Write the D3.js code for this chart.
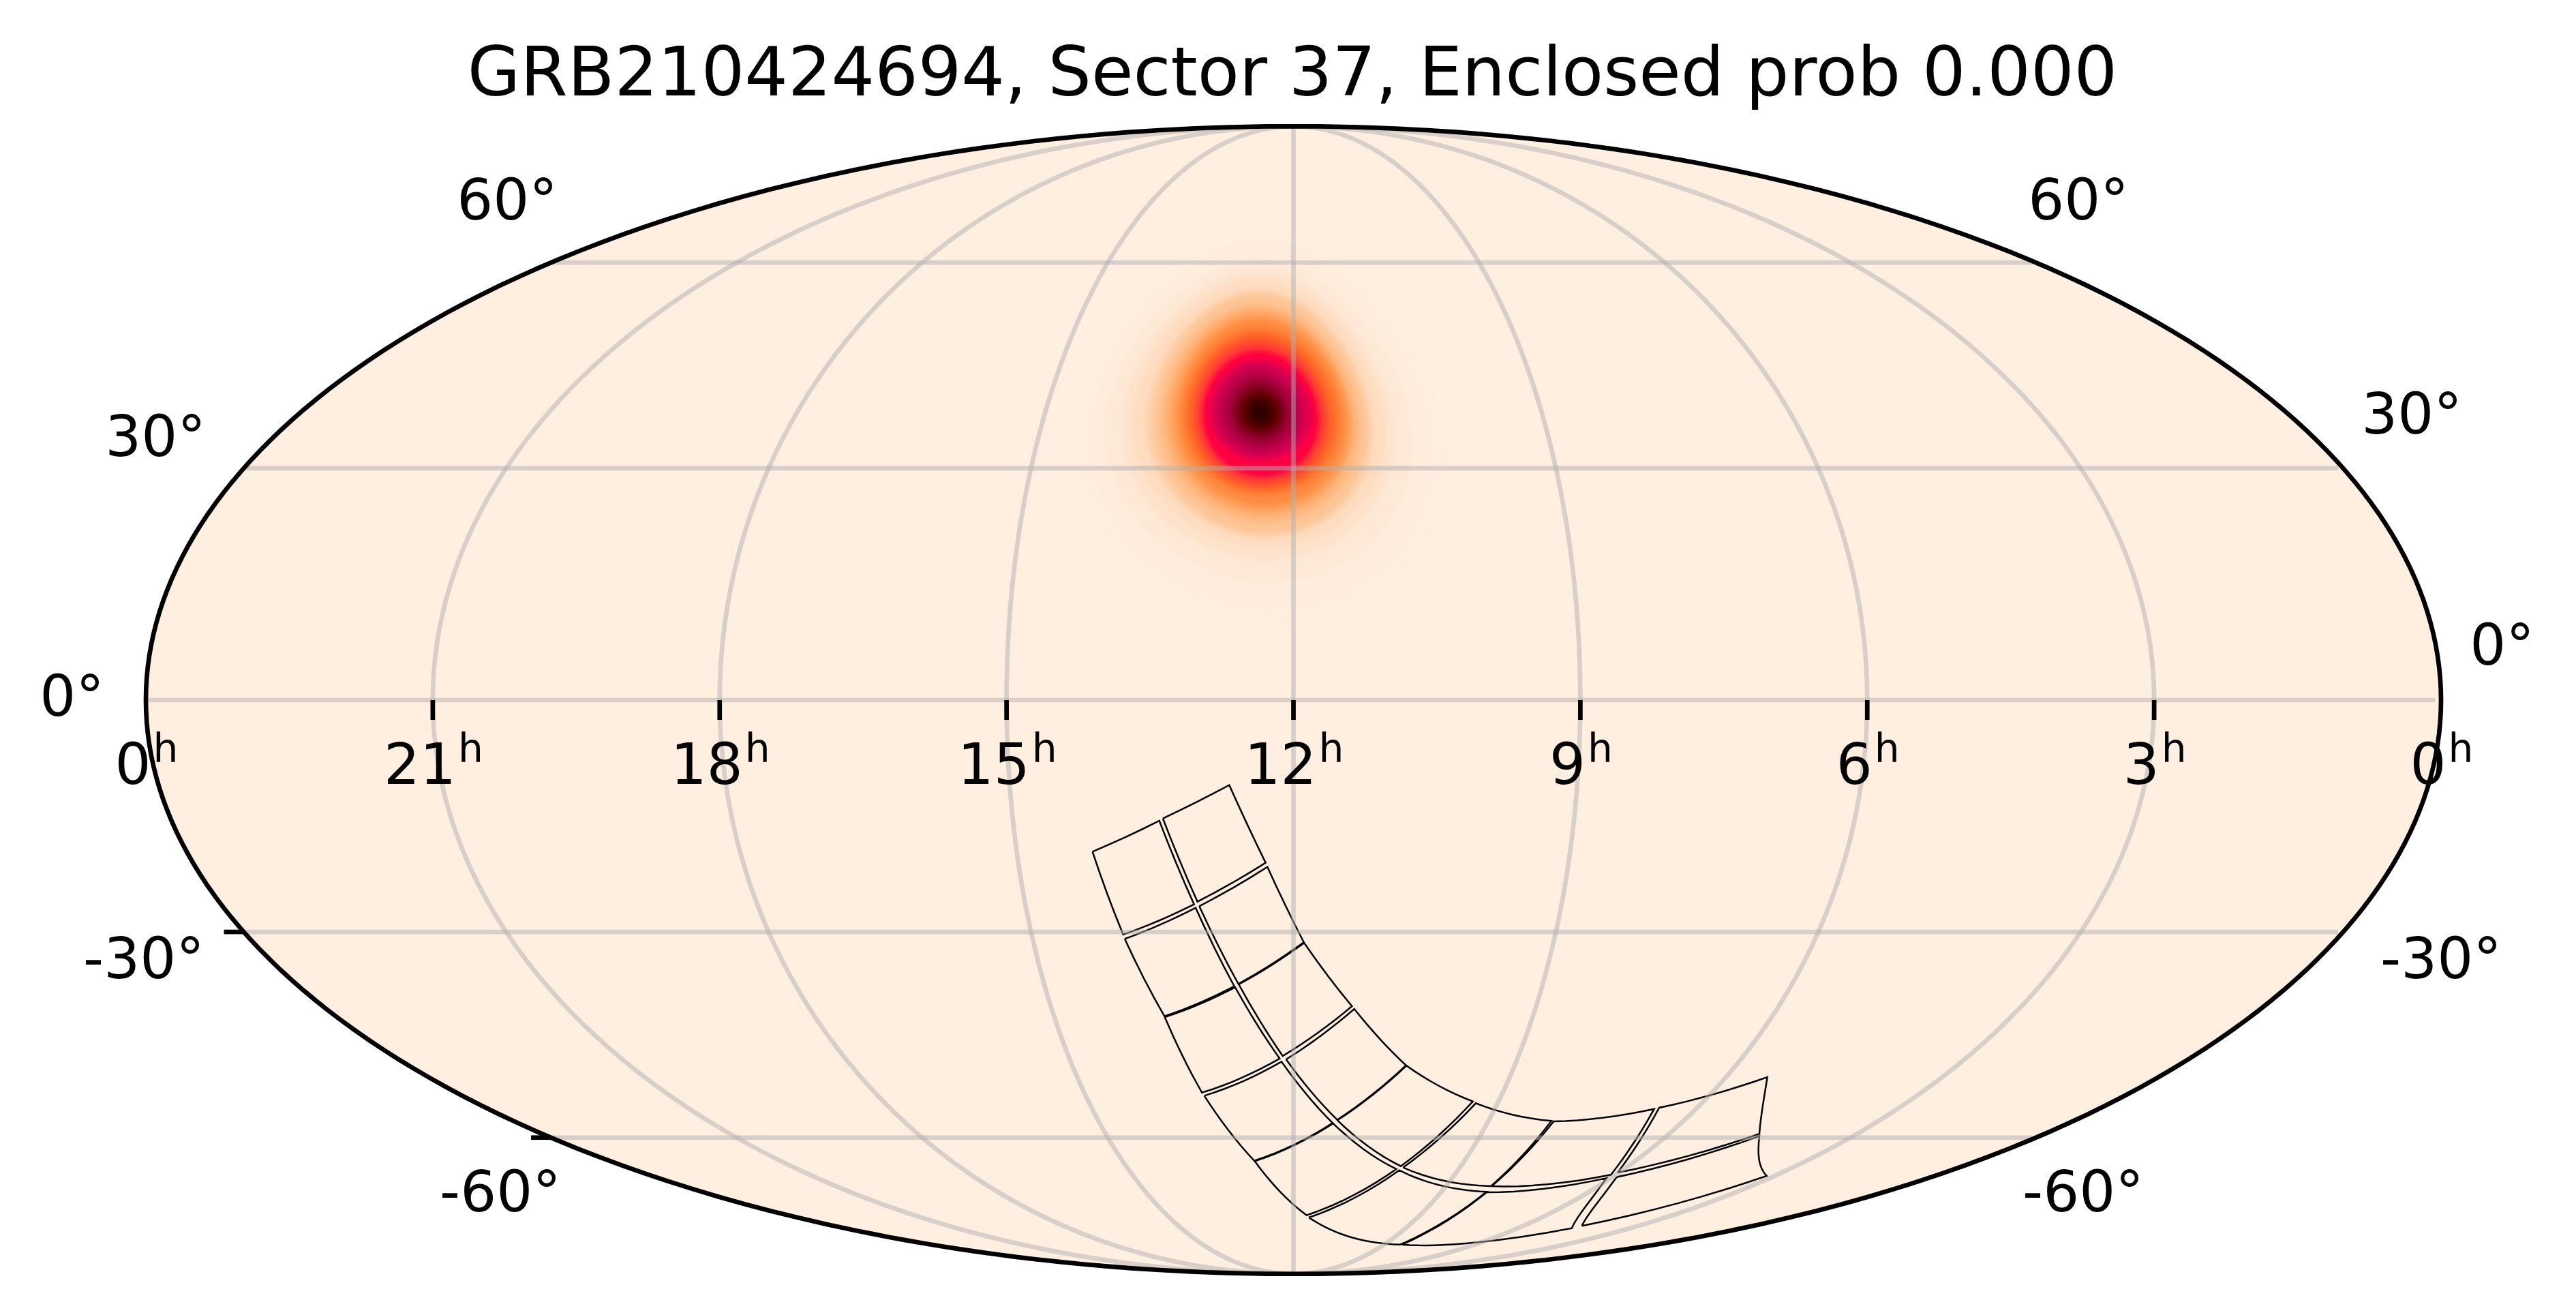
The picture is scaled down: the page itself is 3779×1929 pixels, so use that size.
<!DOCTYPE html>
<html><head><meta charset="utf-8">
<script src="https://cdn.jsdelivr.net/npm/d3@7"></script>
<style>html,body{margin:0;background:#fff}svg{display:block}text{font-family:"DejaVu Sans";fill:#000}</style>
</head><body><svg id="c" width="3779" height="1929"></svg>
<script>
const title="GRB210424694, Sector 37, Enclosed prob 0.000";
const raHourTicks=[21,18,15,12,9,6,3];
const decTicks=[-60,-30,0,30,60];
const ccdCorners=[
[[212.68,-19.41],[201.52,-15.41],[196.68,-26.33],[209.26,-30.36]],
[[200.93,-15.12],[190.18,-10.83],[184.55,-20.86],[196.08,-25.97]],
[[209.10,-30.94],[196.46,-26.78],[190.71,-37.41],[204.24,-41.61]],
[[195.83,-26.57],[184.27,-21.40],[178.21,-31.40],[189.94,-37.08]],
[[204.22,-41.74],[190.56,-37.56],[182.77,-47.73],[199.67,-52.86]],
[[189.87,-37.15],[178.14,-31.49],[169.15,-40.20],[182.15,-47.35]],
[[199.31,-53.34],[182.41,-48.19],[170.91,-57.63],[190.31,-63.90]],
[[181.48,-47.86],[168.68,-40.58],[157.10,-48.74],[169.93,-57.12]],
[[190.20,-63.97],[170.78,-57.70],[152.01,-65.35],[175.34,-74.02]],
[[169.88,-57.19],[157.00,-48.80],[140.63,-54.22],[151.13,-64.84]],
[[174.44,-74.48],[151.05,-65.56],[121.26,-69.46],[127.00,-80.48]],
[[150.36,-65.08],[139.81,-54.50],[120.47,-57.30],[121.70,-68.41]],
[[126.08,-80.48],[121.04,-69.55],[91.22,-66.96],[68.33,-76.74]],
[[121.50,-68.41],[119.87,-57.37],[99.37,-55.40],[91.37,-66.35]],
[[67.01,-76.24],[88.79,-66.77],[67.56,-59.77],[47.20,-66.56]],
[[90.38,-65.96],[98.49,-55.21],[81.41,-50.50],[68.37,-59.39]]
];
const blobCenter=[186.1,37.6];
const blobSkew=0.10;
const blobColors=["#feeee0","#feecdc","#fee8d6","#fee2cb","#fedcc0","#fdcfa5","#fdc495","#feb77e","#ffa868","#ff9a50","#ff8a40","#ff7a30","#ff6a2c","#ff5a28","#ff4530","#ff2038","#ff0040","#e00050","#c80050","#b00045","#a00038","#880024","#700010","#5a0000","#430000","#300000"];
const blobLeft=[32.5,30.2,27.4,24.7,22.8,20.4,19.1,17.9,16.7,15.7,14.8,14.0,13.2,12.5,11.7,10.9,10.4,9.1,8.0,6.8,5.7,4.9,4.1,3.2,2.3,1.5];
const blobRight=[33.1,30.2,26.8,23.8,22.2,20.1,19.2,17.9,16.7,16.3,15.4,14.6,13.7,12.8,12.1,11.2,10.6,9.4,8.0,6.8,5.7,4.9,4.2,3.3,2.5,1.5];
const blobNorth=[26.7,26.2,22.6,20.9,19.6,18.0,17.3,15.7,15.0,14.1,13.5,12.3,11.6,11.0,10.3,9.3,8.7,7.5,6.7,5.7,4.9,4.2,3.4,2.7,2.1,1.3];
const blobSouth=[28.2,26.0,22.4,19.6,18.0,16.7,16.2,14.8,13.8,13.1,12.4,11.2,10.7,10.3,9.9,9.1,8.8,6.5,5.9,5.0,4.3,3.7,3.0,2.5,1.8,1.2];
const decLabels=["0°","0°","-30°","-30°","-60°","-60°","30°","30°","60°","60°"];

function solveTheta(phi){let t=phi;const target=Math.PI*Math.sin(phi);
 if(Math.abs(Math.abs(phi)-Math.PI/2)<1e-9)return phi;
 for(let i=0;i<60;i++){const d=(2*t+Math.sin(2*t)-target)/(2+2*Math.cos(2*t));t-=d;if(Math.abs(d)<1e-10)break;}return t;}
function mollweideRaw(l,p){const t=solveTheta(p);return [2*Math.SQRT2/Math.PI*l*Math.cos(t),Math.SQRT2*Math.sin(t)];}
const CX=1897.5,CY=1027,RY=841.75;
const projection=d3.geoProjection(mollweideRaw).scale(RY/Math.SQRT2).translate([CX,CY]).precision(0.1);
const path=d3.geoPath(projection);
const raToLon=d3.scaleLinear().domain([0,360]).range([180,-180]);
const svg=d3.select("#c");
svg.append("rect").attr("width",3779).attr("height",1929).attr("fill","#fff");
svg.append("path").datum({type:"Sphere"}).attr("d",path).attr("fill","#feefe1");
svg.append("defs").append("filter").attr("id","soft").attr("x","-20%").attr("y","-20%").attr("width","140%").attr("height","140%")
 .append("feGaussianBlur").attr("stdDeviation",3);
const blob=svg.append("g").attr("filter","url(#soft)");
const lon0=raToLon(blobCenter[0]),lat0=blobCenter[1];
blobColors.forEach((c,i)=>{
 const pts=d3.range(0,361,5).map(a=>{const r=a*Math.PI/180,cx=Math.cos(r),sy=Math.sin(r);
  const dx=(cx>0?blobRight[i]:blobLeft[i])*cx,dy=(sy>0?blobNorth[i]:blobSouth[i])*sy;
  return [lon0+dx-blobSkew*dy,lat0+dy];});
 blob.append("path").datum({type:"LineString",coordinates:pts}).attr("d",path).attr("fill",c).attr("stroke","none");
});
const tileG=svg.append("g").attr("fill","none").attr("stroke","#000").attr("stroke-width",2.5);
ccdCorners.forEach(t=>{const c=t.map(p=>[raToLon(p[0]),p[1]]);c.push(c[0]);
 tileG.append("path").datum({type:"LineString",coordinates:c}).attr("d",path);});
const grid=svg.append("g").attr("fill","none").attr("stroke","#b0b0b0").attr("stroke-opacity",0.5).attr("stroke-width",6.67);
raHourTicks.forEach(h=>{const lon=raToLon(h*15);
 grid.append("path").datum({type:"LineString",coordinates:d3.range(-90,90.01,2).map(d=>[lon,d])}).attr("d",path);});
decTicks.forEach(d=>{
 grid.append("path").datum({type:"LineString",coordinates:d3.range(-179.9,179.91,1).map(l=>[l,d])}).attr("d",path);});
svg.append("path").datum({type:"Sphere"}).attr("d",path).attr("fill","none").attr("stroke","#000").attr("stroke-width",6.67);
const ticks=svg.append("g").attr("stroke","#000").attr("stroke-width",6.67);
raHourTicks.forEach(h=>{const p=projection([raToLon(h*15),0]);
 ticks.append("line").attr("x1",p[0]).attr("x2",p[0]).attr("y1",p[1]).attr("y2",p[1]+29);});
[-30,-60].forEach(d=>{const p=projection([-179.999,d]);
 ticks.append("line").attr("x1",p[0]-29).attr("x2",p[0]).attr("y1",p[1]).attr("y2",p[1]);});
svg.append("text").attr("x",1896).attr("y",140).attr("text-anchor","middle").attr("font-size",100).text(title);
function hourLabel(x,h){const t=svg.append("text").attr("x",x+1).attr("y",1150).attr("text-anchor","middle").attr("font-size",83.33);
 t.append("tspan").text(h);
 t.append("tspan").attr("font-size",58.3).attr("dy",-32).attr("dx",3).text("h");}
[0,...raHourTicks].forEach(h=>hourLabel(projection([raToLon(h===0?359.999:h*15),0])[0],h));
hourLabel(projection([raToLon(0.001),0])[0],0);
const decLabelX=[105.5,3670.5,211,3581,734,3056,228,3538,744,3049];
const decLabelY=[1050,975,1435,1435,1777,1777,669,636,322,322];
decLabels.forEach((d,i)=>svg.append("text").attr("x",decLabelX[i]).attr("y",decLabelY[i]).attr("text-anchor","middle").attr("font-size",83.33).text(d));
</script></body></html>
